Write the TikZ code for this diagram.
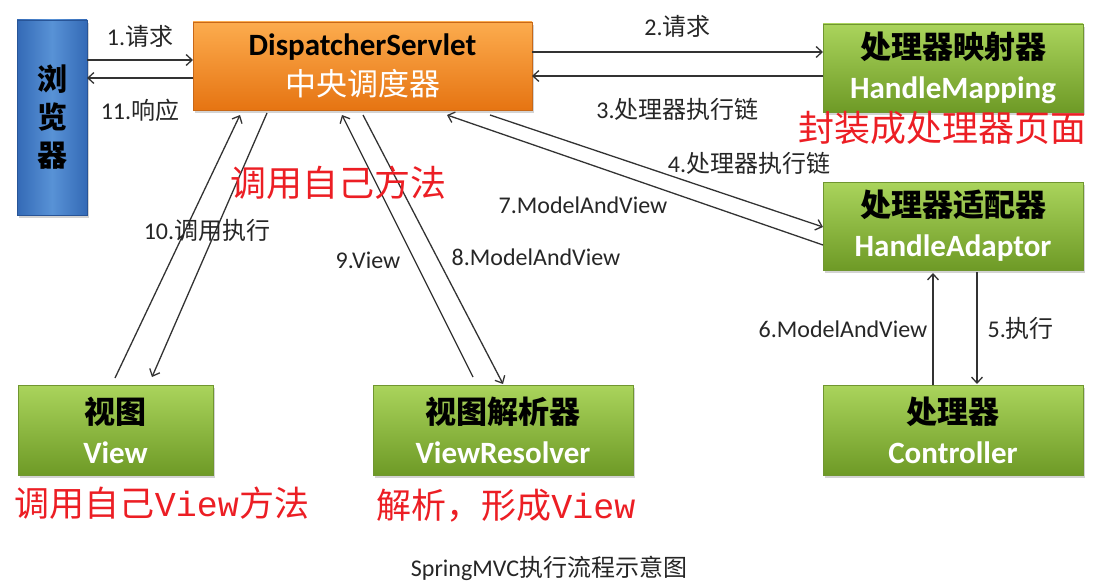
\documentclass[tikz,border=0pt]{standalone}
\usepackage{fontspec}
\setmainfont{Carlito}
\newfontfamily\cjk{Noto Sans CJK SC}
\newfontfamily\redmono{Liberation Mono}
\usetikzlibrary{positioning,shadows,arrows.meta}

\definecolor{greenTop}{RGB}{170,212,92}
\definecolor{greenBot}{RGB}{110,154,38}
\definecolor{greenEdge}{RGB}{112,150,48}
\definecolor{orangeTop}{RGB}{252,172,78}
\definecolor{orangeBot}{RGB}{230,116,18}
\definecolor{orangeEdge}{RGB}{200,104,24}
\definecolor{blueSide}{RGB}{52,106,182}
\definecolor{blueMid}{RGB}{88,146,214}
\definecolor{blueEdge}{RGB}{40,84,150}
\definecolor{noteRed}{RGB}{236,30,36}

\begin{document}
\begin{tikzpicture}
            [%%%%%%%%%%%%%%%%%%%%%%%%%%%%%%%%%%%%%%%%%%%%%%%%%%%%%%%%%%
                x=1pt,y=-1pt,>={Straight Barb[length=6pt,width=11pt]},
                box/.style={rectangle,inner sep=0pt,outer sep=0pt,align=center,
                            line width=0.8pt,
                            drop shadow={shadow xshift=2pt,shadow yshift=-3pt,opacity=0.35},
                            font=\fontsize{31pt}{40pt}\selectfont\bfseries},
                greenbox/.style={box,draw=greenEdge,top color=greenTop,bottom color=greenBot,
                                 minimum width=260pt,minimum height=88pt},
                orangebox/.style={box,draw=orangeEdge,top color=orangeTop,bottom color=orangeBot,
                                  minimum width=339pt,minimum height=88pt},
                bluebox/.style={box,draw=blueEdge,left color=blueSide,right color=blueSide,
                                middle color=blueMid,minimum width=70pt,minimum height=195pt,
                                font=\cjk\fontsize{30pt}{38pt}\selectfont\bfseries},
                arr/.style={->,line width=1.3pt,draw=black!80},
                lbl/.style={font=\fontsize{24pt}{28pt}\selectfont,inner sep=0pt,text=black!85},
                note/.style={font=\cjk\fontsize{36pt}{40pt}\selectfont,inner sep=0pt,text=noteRed}
            ]%%%%%%%%%%%%%%%%%%%%%%%%%%%%%%%%%%%%%%%%%%%%%%%%%%%%%%%%%%
            \useasboundingbox (0,0) rectangle (1097,586);

            \node[bluebox] (browser) at (52,117.5) {浏\\览\\器};
            \node[orangebox] (ds) at (362.5,66)
                {DispatcherServlet\\{\cjk\mdseries\color{white}中央调度器}};
            \node[greenbox] (hm) at (953,68)
                {{\cjk 处理器映射器}\\{\color{white}HandleMapping}};
            \node[greenbox] (ha) [below=70pt of hm]
                {{\cjk 处理器适配器}\\{\color{white}HandleAdaptor}};
            \node[greenbox,minimum height=90pt] (ctrl) [below=115pt of ha]
                {{\cjk 处理器}\\{\color{white}Controller}};
            \node[greenbox,minimum width=195pt,minimum height=90pt] (view) at (115.5,430)
                {{\cjk 视图}\\{\color{white}View}};
            \node[greenbox,minimum height=90pt] (vr) [right=160pt of view]
                {{\cjk 视图解析器}\\{\color{white}ViewResolver}};

            \draw[arr] ([yshift=57.5pt]browser.east) -- node[lbl,above=12pt] {1.{\cjk 请求}} ([yshift=6pt]ds.west);
            \draw[arr] ([yshift=-12pt]ds.west) -- node[lbl,below=20pt] {11.{\cjk 响应}} ([yshift=39.5pt]browser.east);
            \draw[arr] ([yshift=14pt]ds.east) -- node[lbl,above=14pt] {2.{\cjk 请求}} ([yshift=16pt]hm.west);
            \draw[arr] ([yshift=-8pt]hm.west) -- node[lbl,below=22pt] {3.{\cjk 处理器执行链}} ([yshift=-10pt]ds.east);
            \draw[arr] ([xshift=127.5pt,yshift=-5pt]ds.south) -- ([yshift=-1pt]ha.west);
            \draw[arr] ([yshift=-19pt]ha.west) -- ([xshift=84.5pt,yshift=-5pt]ds.south);
            \draw[arr] ([xshift=24pt,yshift=-2pt]ha.south) -- node[lbl,right=10pt] {5.{\cjk 执行}} ([xshift=24pt,yshift=1pt]ctrl.north);
            \draw[arr] ([xshift=-20pt]ctrl.north) -- node[lbl,left=5pt] {6.ModelAndView} ([xshift=-20pt,yshift=-3pt]ha.south);
            \draw[arr] ([xshift=0.5pt,yshift=-5pt]ds.south) -- ([yshift=1pt]vr.north);
            \draw[arr] ([xshift=-30pt,yshift=8pt]vr.north) -- ([xshift=-20.5pt,yshift=-5pt]ds.south);
            \draw[arr] ([xshift=-0.5pt,yshift=7pt]view.north) -- ([xshift=-122.5pt,yshift=-5pt]ds.south);
            \draw[arr] ([xshift=-95.5pt,yshift=-3pt]ds.south) -- ([xshift=36.5pt,yshift=8pt]view.north);

            \node[lbl] (l4) at (749,163) {4.{\cjk 处理器执行链}};
            \node[lbl] (l7) at (583,205) {7.ModelAndView};
            \node[lbl] (l8) at (536,257) {8.ModelAndView};
            \node[lbl] (l9) at (368,260) {9.View};
            \node[lbl] (l10) at (207,230) {10.{\cjk 调用执行}};

            % red notes
            \node[note] (n1) at (338,183) {调用自己方法};
            \node[note] (n2) at (942,128) {封装成处理器页面};
            \node[note,font=\cjk\fontsize{35pt}{40pt}\selectfont] (n3) at (162,503) {调用自己{\redmono View}方法};
            \node[note,font=\cjk\fontsize{35pt}{40pt}\selectfont] (n4) at (506,506) {解析，形成{\redmono View}};

            \node[lbl] (caption) at (549,568) {SpringMVC{\cjk 执行流程示意图}};
        \end{tikzpicture}
\end{document}
